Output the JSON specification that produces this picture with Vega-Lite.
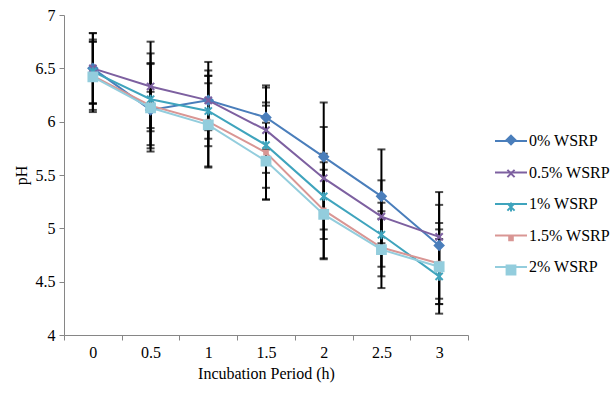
{
  "$schema": "https://vega.github.io/schema/vega-lite/v6.json",
  "width": 404,
  "height": 320,
  "autosize": {"type": "none"},
  "padding": {"left": 64, "top": 15, "right": 143, "bottom": 61},
  "background": "white",
  "config": {
    "view": {"stroke": null},
    "font": "Liberation Serif, serif",
    "axis": {"labelFont": "Liberation Serif, serif", "titleFont": "Liberation Serif, serif", "labelFontSize": 16, "titleFontSize": 16, "titleFontWeight": "normal", "labelColor": "black", "titleColor": "black", "domainColor": "#868686", "tickColor": "#868686", "grid": false, "tickSize": 5},
    "legend": {"labelFont": "Liberation Serif, serif", "labelFontSize": 16, "labelColor": "black", "padding": 0}
  },
  "data": {"values": [
    {"t": "0", "s": "0% WSRP", "v": 6.50, "lo": 6.17, "hi": 6.83},
    {"t": "0.5", "s": "0% WSRP", "v": 6.11, "lo": 5.94, "hi": 6.28},
    {"t": "1", "s": "0% WSRP", "v": 6.20, "lo": 5.84, "hi": 6.56},
    {"t": "1.5", "s": "0% WSRP", "v": 6.04, "lo": 5.74, "hi": 6.34},
    {"t": "2", "s": "0% WSRP", "v": 5.67, "lo": 5.16, "hi": 6.18},
    {"t": "2.5", "s": "0% WSRP", "v": 5.30, "lo": 4.86, "hi": 5.74},
    {"t": "3", "s": "0% WSRP", "v": 4.84, "lo": 4.34, "hi": 5.34},
    {"t": "0", "s": "0.5% WSRP", "v": 6.50, "lo": 6.17, "hi": 6.83},
    {"t": "0.5", "s": "0.5% WSRP", "v": 6.33, "lo": 5.91, "hi": 6.75},
    {"t": "1", "s": "0.5% WSRP", "v": 6.20, "lo": 5.92, "hi": 6.48},
    {"t": "1.5", "s": "0.5% WSRP", "v": 5.92, "lo": 5.52, "hi": 6.32},
    {"t": "2", "s": "0.5% WSRP", "v": 5.47, "lo": 4.99, "hi": 5.95},
    {"t": "2.5", "s": "0.5% WSRP", "v": 5.11, "lo": 4.77, "hi": 5.45},
    {"t": "3", "s": "0.5% WSRP", "v": 4.92, "lo": 4.62, "hi": 5.22},
    {"t": "0", "s": "1% WSRP", "v": 6.47, "lo": 6.17, "hi": 6.77},
    {"t": "0.5", "s": "1% WSRP", "v": 6.21, "lo": 5.78, "hi": 6.64},
    {"t": "1", "s": "1% WSRP", "v": 6.10, "lo": 5.77, "hi": 6.43},
    {"t": "1.5", "s": "1% WSRP", "v": 5.78, "lo": 5.38, "hi": 6.18},
    {"t": "2", "s": "1% WSRP", "v": 5.30, "lo": 4.90, "hi": 5.70},
    {"t": "2.5", "s": "1% WSRP", "v": 4.94, "lo": 4.64, "hi": 5.24},
    {"t": "3", "s": "1% WSRP", "v": 4.55, "lo": 4.20, "hi": 4.90},
    {"t": "0", "s": "1.5% WSRP", "v": 6.43, "lo": 6.11, "hi": 6.75},
    {"t": "0.5", "s": "1.5% WSRP", "v": 6.15, "lo": 5.75, "hi": 6.55},
    {"t": "1", "s": "1.5% WSRP", "v": 6.00, "lo": 5.57, "hi": 6.43},
    {"t": "1.5", "s": "1.5% WSRP", "v": 5.71, "lo": 5.27, "hi": 6.15},
    {"t": "2", "s": "1.5% WSRP", "v": 5.17, "lo": 4.72, "hi": 5.62},
    {"t": "2.5", "s": "1.5% WSRP", "v": 4.82, "lo": 4.55, "hi": 5.09},
    {"t": "3", "s": "1.5% WSRP", "v": 4.67, "lo": 4.29, "hi": 5.05},
    {"t": "0", "s": "2% WSRP", "v": 6.42, "lo": 6.09, "hi": 6.75},
    {"t": "0.5", "s": "2% WSRP", "v": 6.13, "lo": 5.72, "hi": 6.54},
    {"t": "1", "s": "2% WSRP", "v": 5.97, "lo": 5.58, "hi": 6.36},
    {"t": "1.5", "s": "2% WSRP", "v": 5.63, "lo": 5.27, "hi": 5.99},
    {"t": "2", "s": "2% WSRP", "v": 5.13, "lo": 4.71, "hi": 5.55},
    {"t": "2.5", "s": "2% WSRP", "v": 4.80, "lo": 4.44, "hi": 5.16},
    {"t": "3", "s": "2% WSRP", "v": 4.64, "lo": 4.29, "hi": 4.99}
  ]},
  "encoding": {
    "x": {"field": "t", "type": "ordinal", "sort": null, "scale": {"type": "band", "paddingInner": 0, "paddingOuter": 0},
      "axis": {"title": "Incubation Period (h)", "labelAngle": 0, "tickBand": "extent", "labelPadding": 4, "titlePadding": 5, "labelFont": "Liberation Serif, serif", "labelFontSize": 16, "titleFont": "Liberation Serif, serif", "titleFontSize": 16, "titleFontWeight": "normal"}}
  },
  "layer": [
    {
      "mark": {"type": "rule", "color": "black", "strokeWidth": 2},
      "encoding": {
        "y": {"field": "lo", "type": "quantitative", "scale": {"domain": [4, 7], "nice": false, "zero": false},
          "axis": {"title": "pH", "values": [4, 4.5, 5, 5.5, 6, 6.5, 7], "format": "~g", "labelPadding": 4, "titlePadding": 6, "labelFont": "Liberation Serif, serif", "labelFontSize": 16, "titleFont": "Liberation Serif, serif", "titleFontSize": 16, "titleFontWeight": "normal"}},
        "y2": {"field": "hi"}
      }
    },
    {
      "mark": {"type": "tick", "color": "black", "thickness": 2, "size": 8, "orient": "horizontal"},
      "encoding": {"y": {"field": "lo", "type": "quantitative"}}
    },
    {
      "mark": {"type": "tick", "color": "black", "thickness": 2, "size": 8, "orient": "horizontal"},
      "encoding": {"y": {"field": "hi", "type": "quantitative"}}
    },
    {
      "mark": {"type": "line", "strokeWidth": 2},
      "encoding": {
        "y": {"field": "v", "type": "quantitative"},
        "color": {"field": "s", "type": "nominal", "sort": null, "title": null,
          "scale": {"domain": ["0% WSRP", "0.5% WSRP", "1% WSRP", "1.5% WSRP", "2% WSRP"], "range": ["#4A7EBB", "#7D60A0", "#3FA4BD", "#D99694", "#93CDDD"]},
          "legend": {"orient": "none", "legendX": 430, "legendY": 109, "symbolType": "stroke", "symbolSize": 1024, "symbolStrokeWidth": 2, "rowPadding": 6.5, "labelOffset": 1, "title": null, "labelFont": "Liberation Serif, serif", "labelFontSize": 16}}
      }
    },
    {
      "mark": {"type": "point", "filled": true, "opacity": 1, "size": 64, "strokeWidth": 2},
      "encoding": {
        "y": {"field": "v", "type": "quantitative"},
        "fill": {"field": "s", "type": "nominal", "sort": null, "title": null,
          "scale": {"range": ["#4A7EBB", "#7D60A0", "#3FA4BD", "#D99694", "#93CDDD"]},
          "legend": {"orient": "none", "legendX": 442, "legendY": 120, "symbolSize": 64, "symbolStrokeWidth": 2, "rowPadding": 16.5, "labelOffset": 0, "title": null, "labelExpr": "''", "labelFontSize": 1}},
        "stroke": {"field": "s", "type": "nominal", "sort": null, "title": null,
          "scale": {"range": ["#4A7EBB", "#7D60A0", "#3FA4BD", "#D99694", "#93CDDD"]}},
        "shape": {"field": "s", "type": "nominal", "sort": null, "title": null,
          "scale": {"range": ["M0,-1.1L1.1,0L0,1.1L-1.1,0Z", "M-0.9,-0.9L0.9,0.9M-0.9,0.9L0.9,-0.9", "M-0.9,-0.9L0.9,0.9M-0.9,0.9L0.9,-0.9M0,-1.1L0,1.1", "M-0.45,-0.45L0.45,-0.45L0.45,0.45L-0.45,0.45Z", "M-1.1,-1.1L1.1,-1.1L1.1,1.1L-1.1,1.1Z"]}}
      }
    }
  ]
}
